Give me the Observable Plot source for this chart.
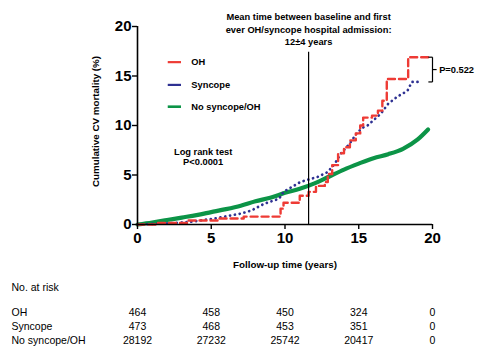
<!DOCTYPE html>
<html>
<head>
<meta charset="utf-8">
<script src="https://cdn.jsdelivr.net/npm/d3@7"></script>
<script src="https://cdn.jsdelivr.net/npm/@observablehq/plot@0.6"></script>
<style>
  html, body { margin: 0; padding: 0; background: #fff; }
</style>
</head>
<body>
<div id="chart"></div>
<script>
// ---- Data ----
const ohTime   = [0, 1.3, 3.4, 5.5, 7.2, 9.7, 9.9, 11.0, 11.6, 12.1, 12.7, 12.9, 13.2, 13.6, 14.0, 14.4, 14.8, 15.1, 15.3, 15.9, 16.3, 16.6, 16.9, 18.35, 19.7];
const ohValue  = [0, 0.15, 0.4, 0.6, 0.8, 1.6, 2.2, 2.9, 3.3, 3.9, 4.3, 5.1, 6.0, 7.2, 7.8, 8.5, 9.2, 10.0, 10.8, 11.0, 11.5, 12.5, 14.7, 16.9, 16.9];

const syncTime  = [0, 1.8, 3.5, 5.2, 7.0, 7.7, 8.6, 9.6, 9.9, 11.05, 12.2, 12.9, 13.4, 13.8, 14.4, 14.9, 15.3, 15.6, 16.5, 17.0, 17.6, 18.3, 18.6, 19.3];
const syncValue = [0, 0.1, 0.25, 0.6, 1.1, 1.4, 2.1, 2.6, 3.3, 4.3, 4.8, 5.3, 6.2, 7.2, 8.2, 9.3, 9.8, 10.0, 11.2, 12.2, 12.9, 13.5, 14.4, 14.4];

const noneTime  = [0, 1, 2, 3, 4, 5, 6, 7, 8, 9, 10, 11, 12, 13, 14, 15, 16, 17, 18, 19, 19.7];
const noneValue = [0, 0.2, 0.45, 0.7, 0.95, 1.25, 1.55, 1.9, 2.35, 2.7, 3.2, 3.6, 4.15, 4.85, 5.55, 6.15, 6.7, 7.1, 7.65, 8.6, 9.6];

const xTicks = [0, 5, 10, 15, 20];
const yTicks = [0, 5, 10, 15, 20];

const seriesNames = ["OH", "Syncope", "No syncope/OH"];
const atRiskTimes = [0, 5, 10, 15, 20];
const atRiskOH      = [464, 458, 450, 324, 0];
const atRiskSyncope = [473, 468, 453, 351, 0];
const atRiskNone    = [28192, 27232, 25742, 20417, 0];

const meanTime = 11.6;
const meanTimeTop = 17.4;
const annotationLines = ["Mean time between baseline and first", "ever OH/syncope hospital admission:", "12±4 years"];
const annotationY = [21.0, 19.6, 18.4];
const pValueText = "P=0.522";
const logRankLines = ["Log rank test", "P<0.0001"];
const logRankY = [7.3, 6.3];

// ---- Build tables ----
const zip = (t, v) => t.map((x, i) => ({x, y: v[i]}));
const oh = zip(ohTime, ohValue);
const sync = zip(syncTime, syncValue);
const none = zip(noneTime, noneValue);

const RED = "#ee3b35", BLUE = "#2e3192", GREEN = "#0c9447";
const FONT = "Liberation Sans, Arial, Helvetica, sans-serif";

const legend = [
  {name: seriesNames[0], y: 16.4, stroke: RED, dash: "4,2.5", w: 2.2, cap: "butt"},
  {name: seriesNames[1], y: 14.1, stroke: BLUE, dash: "0.1,4.5", w: 2.2, cap: "round"},
  {name: seriesNames[2], y: 11.9, stroke: GREEN, dash: null, w: 2.6, cap: "butt"}
];

const topP = ohValue[ohValue.length - 1];
const botP = syncValue[syncValue.length - 1];
const bracket = [
  {x1: 19.72, x2: 20.0, y1: topP, y2: topP},
  {x1: 19.72, x2: 20.0, y1: botP, y2: botP},
  {x1: 20.0, x2: 20.0, y1: topP, y2: botP},
  {x1: 20.0, x2: 20.28, y1: (topP + botP) / 2, y2: (topP + botP) / 2}
];

const tableRows = [
  {label: seriesNames[0], values: atRiskOH, dy: 91},
  {label: seriesNames[1], values: atRiskSyncope, dy: 105},
  {label: seriesNames[2], values: atRiskNone, dy: 119}
];
const tableMarks = tableRows.flatMap(r => [
  Plot.text([r.label], {frameAnchor: "bottom-left", dx: -126, dy: r.dy, textAnchor: "start", fontSize: 10.5, fill: "black"}),
  Plot.text(r.values, {x: (d, i) => atRiskTimes[i], text: d => String(d), frameAnchor: "bottom", dy: r.dy, fontSize: 10.5, fill: "black"})
]);

const marks = [
  // curves
  Plot.line(none, {x: "x", y: "y", stroke: GREEN, strokeWidth: 4.2, strokeLinejoin: "round", curve: "monotone-x"}),
  Plot.line(sync, {x: "x", y: "y", stroke: BLUE, strokeWidth: 2.7, strokeDasharray: "0.1,4.8", strokeLinecap: "round"}),
  Plot.line(oh, {x: "x", y: "y", stroke: RED, strokeWidth: 2.4, strokeDasharray: "7,4", curve: "step-after"}),
  // mean time vertical line
  Plot.ruleX([meanTime], {y1: 0, y2: meanTimeTop, stroke: "black", strokeWidth: 1.2}),
  // axes
  Plot.ruleY([0], {stroke: "black", strokeWidth: 1.6}),
  Plot.ruleX([0], {stroke: "black", strokeWidth: 1.6}),
  Plot.axisX({ticks: xTicks, tickSize: 5, tickPadding: 3, fontSize: 15, fontWeight: "bold", label: null, strokeWidth: 1.4, tickFormat: d => d}),
  Plot.axisY({ticks: yTicks, tickSize: 5, tickPadding: 1, fontSize: 15, fontWeight: "bold", label: null, strokeWidth: 1.4, tickFormat: d => d}),
  // axis titles
  Plot.text(["Follow-up time (years)"], {frameAnchor: "bottom", dy: 43, fontSize: 9.8, fontWeight: "bold", fill: "black"}),
  Plot.text(["Cumulative CV mortality (%)"], {frameAnchor: "left", dx: -42, dy: -4, rotate: -90, textAnchor: "middle", fontSize: 9.8, fontWeight: "bold", fill: "black"}),
  // annotation
  Plot.text(annotationLines, {x: () => meanTime, y: (d, i) => annotationY[i], fontSize: 9.3, fontWeight: "bold", fill: "black"}),
  Plot.text(logRankLines, {x: () => 4.45, y: (d, i) => logRankY[i], fontSize: 9.3, fontWeight: "bold", fill: "black"}),
  // legend
  Plot.link(legend, {x1: () => 2.05, x2: () => 2.95, y1: "y", y2: "y", stroke: "stroke", strokeWidth: "w", strokeDasharray: "dash", strokeLinecap: "cap"}),
  Plot.text(legend, {x: () => 3.65, y: "y", text: "name", textAnchor: "start", fontSize: 9.3, fontWeight: "bold", fill: "black"}),
  // p-value bracket
  Plot.link(bracket, {x1: "x1", x2: "x2", y1: "y1", y2: "y2", stroke: "black", strokeWidth: 1.2}),
  Plot.text([pValueText], {x: () => 20.45, y: () => (topP + botP) / 2, textAnchor: "start", fontSize: 9.3, fontWeight: "bold", fill: "black"}),
  // at-risk table
  Plot.text(["No. at risk"], {frameAnchor: "bottom-left", dx: -126, dy: 66, textAnchor: "start", fontSize: 10.5, fill: "black"}),
  ...tableMarks
];

const chart = Plot.plot({
  width: 481,
  height: 349,
  marginLeft: 137,
  marginRight: 49,
  marginTop: 26,
  marginBottom: 125,
  x: {domain: [0, 20]},
  y: {domain: [0, 20]},
  style: {fontFamily: FONT, background: "white", color: "black", overflow: "visible"},
  marks
});
document.getElementById("chart").appendChild(chart);
</script>
</body>
</html>
